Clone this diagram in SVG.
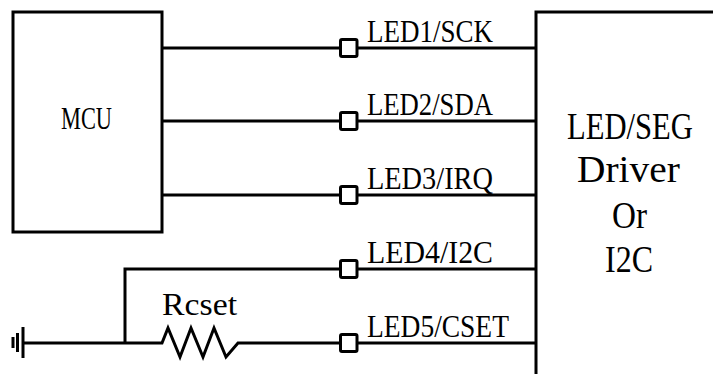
<svg xmlns="http://www.w3.org/2000/svg" width="713" height="374" viewBox="0 0 713 374">
<style>
.w{fill:none;stroke:#000;stroke-width:3;stroke-linejoin:miter}
.pad{fill:#fff;stroke:#000;stroke-width:3}
.t{font-family:"Liberation Serif","Times New Roman",serif;fill:#000}
.lbl{font-size:32px}
.big{font-size:37px}
</style>
<rect width="713" height="374" fill="#fff"/>
<g id="connectors">
<path class="w" d="M162,48 H536"/>
<path class="w" d="M162,121 H536"/>
<path class="w" d="M162,195 H536"/>
<path class="w" d="M125,343 V269 H536"/>
<path class="w" d="M23,343 H162 L168,328 L180,357 L191,328 L203,357 L214,328 L226,357 L238,343 H536"/>
</g>
<g id="ground">
<path class="w" d="M23,327 V358 M17.5,333 V352 M13,337 V348"/>
</g>
<g id="mcu">
<rect class="w" x="13" y="12" width="149" height="220"/>
<text class="t lbl" transform="translate(61,129) scale(0.70,1)">MCU</text>
</g>
<g id="driver">
<path class="w" d="M536,376 V12 H715"/>
<text class="t big" transform="translate(567,139) scale(0.828,1)">LED/SEG</text>
<text class="t big" transform="translate(577,182) scale(1.066,1)">Driver</text>
<text class="t big" transform="translate(612,228) scale(0.897,1)">Or</text>
<text class="t big" transform="translate(605,272) scale(0.865,1)">I2C</text>
</g>
<g id="pin1">
<rect class="pad" x="340.5" y="39.5" width="16.5" height="17" rx="1.5"/>
<text class="t lbl" transform="translate(367,42) scale(0.844,1)">LED1/SCK</text>
</g>
<g id="pin2">
<rect class="pad" x="340.5" y="112.5" width="16.5" height="17" rx="1.5"/>
<text class="t lbl" transform="translate(367,115) scale(0.834,1)">LED2/SDA</text>
</g>
<g id="pin3">
<rect class="pad" x="340.5" y="186.5" width="16.5" height="17" rx="1.5"/>
<text class="t lbl" transform="translate(367,189) scale(0.886,1)">LED3/IRQ</text>
</g>
<g id="pin4">
<rect class="pad" x="340.5" y="260.5" width="16.5" height="17" rx="1.5"/>
<text class="t lbl" transform="translate(367,263) scale(0.933,1)">LED4/I2C</text>
</g>
<g id="pin5">
<rect class="pad" x="340.5" y="334.5" width="16.5" height="17" rx="1.5"/>
<text class="t lbl" transform="translate(367,337) scale(0.859,1)">LED5/CSET</text>
</g>
<g id="rcset">
<text class="t lbl" transform="translate(162,315) scale(1.09,1)" style="font-size:31px">Rcset</text>
</g>
</svg>
